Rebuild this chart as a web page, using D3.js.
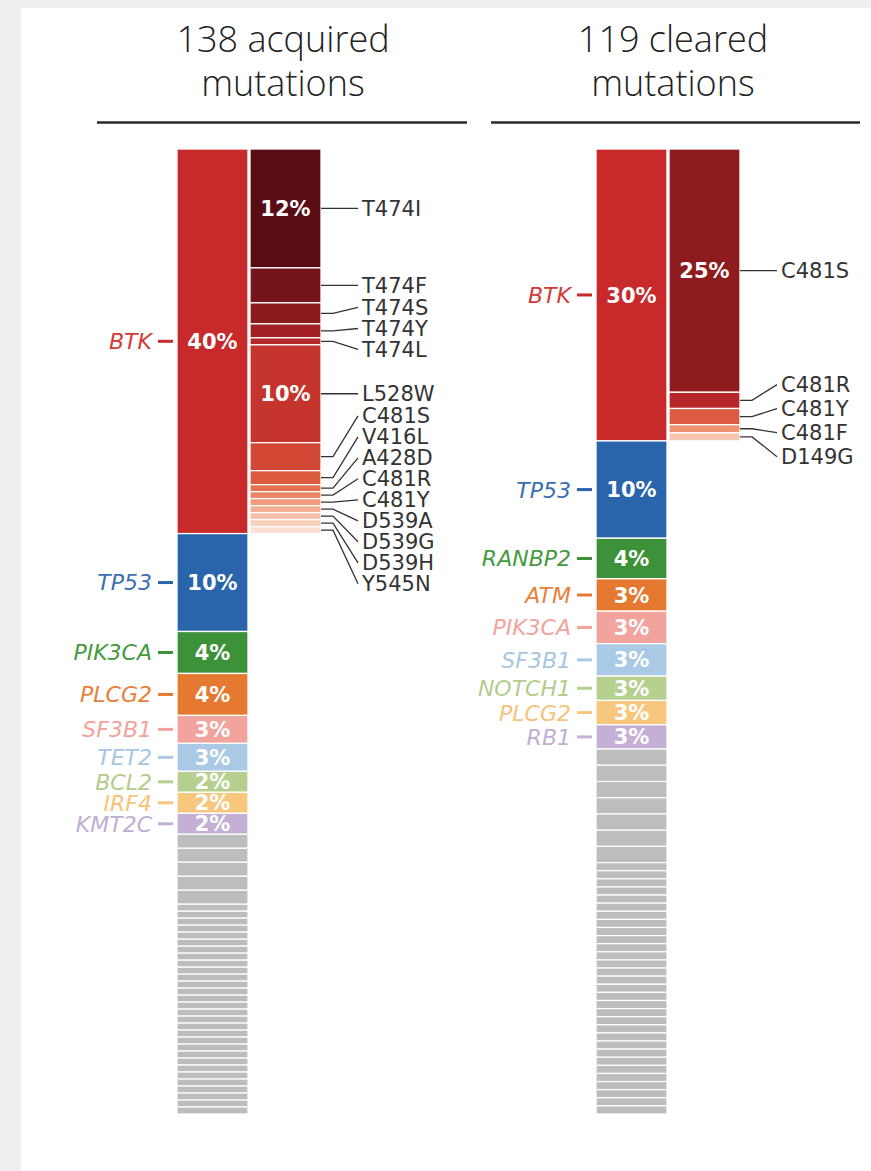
<!DOCTYPE html>
<html><head><meta charset="utf-8">
<script src="https://cdn.jsdelivr.net/npm/d3@7"></script>
<style>html,body{margin:0;padding:0;background:#efefef;}svg{display:block;}</style>
</head><body>
<script>
// ---------- DATA ----------
const leftTitle = ["138 acquired", "mutations"];
const rightTitle = ["119 cleared", "mutations"];
const leftTotal = 138;
const rightTotal = 119;

const leftGenes = ["BTK","TP53","PIK3CA","PLCG2","SF3B1","TET2","BCL2","IRF4","KMT2C"];
const leftCounts = [55,14,6,6,4,4,3,3,3];
const leftOther = [2,2,2,2,2,1,1,1,1,1,1,1,1,1,1,1,1,1,1,1,1,1,1,1,1,1,1,1,1,1,1,1,1,1,1];

const leftBtkMuts = ["T474I","T474F","T474S","T474Y","T474L","L528W","C481S","V416L","A428D","C481R","C481Y","D539A","D539G","D539H","Y545N"];
const leftBtkCounts = [17,5,3,2,1,14,4,2,1,1,1,1,1,1,1];

const rightGenes = ["BTK","TP53","RANBP2","ATM","PIK3CA","SF3B1","NOTCH1","PLCG2","RB1"];
const rightCounts = [36,12,5,4,4,4,3,3,3];
const rightOther = [2,2,2,2,2,2,2,1,1,1,1,1,1,1,1,1,1,1,1,1,1,1,1,1,1,1,1,1,1,1,1,1,1,1,1,1,1,1];

const rightBtkMuts = ["C481S","C481R","C481Y","C481F","D149G"];
const rightBtkCounts = [30,2,2,1,1];

// ---------- STYLE ----------
const rankColors = ["#c8292a","#2a65ab","#3d9139","#e5792f","#f2a39d","#a9c9e5","#b6cf8f","#f7c77d","#c4b0d5"];
const labelColors = ["#d23a35","#3a6fb2","#469a40","#e8803a","#f1a39c","#a6c6e2","#b3cc8c","#f5c37a","#c2aed3"];
const grayColor = "#bdbdbd";
const leftBtkColors = ["#5a0c16","#751419","#8d1b1e","#a32022","#b32628","#c5352d","#d24834","#dc5b3f","#e56f50","#ec8565","#f19a7e","#f4ad94","#f7bfa9","#f9cfbe","#fcdfd2"];
const rightBtkColors = ["#8e1b1d","#b9262a","#dc5b42","#ef9272","#f6c5ae"];

const W = 871, H = 1171;
const FONT = "'DejaVu Sans', sans-serif";

const svg = d3.select("body").append("svg").attr("width", W).attr("height", H);
svg.append("rect").attr("width", W).attr("height", H).attr("fill", "#efefef");
svg.append("rect").attr("x", 21).attr("y", 8).attr("width", W - 21).attr("height", H - 8).attr("fill", "#fff");

function cumulative(arr) {
  let s = 0;
  return arr.map(v => { const a = s; s += v; return [a, s]; });
}

// dodge labels: centered clusters with min spacing
function dodge(desired, gap) {
  let clusters = desired.map((d, i) => ({ idx: [i], mean: d }));
  let changed = true;
  const pos = c => c.idx.map((_, k) => c.mean - (c.idx.length - 1) * gap / 2 + k * gap);
  while (changed) {
    changed = false;
    for (let i = 0; i < clusters.length - 1; i++) {
      const a = clusters[i], b = clusters[i + 1];
      const pa = pos(a), pb = pos(b);
      if (pb[0] - pa[pa.length - 1] < gap - 0.01) {
        const idx = a.idx.concat(b.idx);
        const mean = d3.mean(idx, j => desired[j]);
        clusters.splice(i, 2, { idx, mean });
        changed = true;
        break;
      }
    }
  }
  const out = [];
  clusters.forEach(c => pos(c).forEach((p, k) => out[c.idx[k]] = p));
  return out;
}

function drawPanel(opt) {
  const g = svg.append("g");
  const y = d3.scaleLinear().domain([0, opt.total]).range([149, 1114]);
  const barW = 71;
  const x = d3.scaleOrdinal().domain(["main", "sub"]).range([opt.x0, opt.x0 + barW + 2]);

  // title
  const t = g.append("text").attr("text-anchor", "middle").attr("font-family", "'Open Sans', sans-serif")
    .attr("font-weight", 300).attr("font-size", 36).attr("fill", "#222");
  opt.title.forEach((s, i) => t.append("tspan").attr("x", opt.cx).attr("y", 52 + i * 44).text(s));
  g.append("line").attr("x1", opt.rule[0]).attr("x2", opt.rule[1]).attr("y1", 122.5).attr("y2", 122.5)
    .attr("stroke", "#2b2b2b").attr("stroke-width", 2.6);

  // main bar
  const geneSpans = cumulative(opt.counts);
  const otherSpans = cumulative(opt.other).map(([a, b]) => [a + d3.sum(opt.counts), b + d3.sum(opt.counts)]);

  g.selectAll(".gene").data(geneSpans).join("rect")
    .attr("x", x("main")).attr("width", barW)
    .attr("y", d => y(d[0])).attr("height", d => y(d[1]) - y(d[0]))
    .attr("fill", (d, i) => rankColors[i]).attr("stroke", "#fff").attr("stroke-width", 1.3);

  g.selectAll(".other").data(otherSpans).join("rect")
    .attr("x", x("main")).attr("width", barW)
    .attr("y", d => y(d[0])).attr("height", d => y(d[1]) - y(d[0]))
    .attr("fill", grayColor).attr("stroke", "#fff").attr("stroke-width", 1.2);

  // percentages in main bar
  g.selectAll(".gpct").data(geneSpans).join("text")
    .attr("x", x("main") + barW / 2).attr("y", d => (y(d[0]) + y(d[1])) / 2)
    .attr("dy", "0.36em").attr("text-anchor", "middle")
    .attr("font-family", FONT).attr("font-weight", 700).attr("font-size", 21).attr("fill", "#fff")
    .text((d, i) => Math.round(opt.counts[i] / opt.total * 100) + "%");

  // gene labels + ticks
  g.selectAll(".gtick").data(geneSpans).join("line")
    .attr("x1", x("main") - 19).attr("x2", x("main") - 4)
    .attr("y1", d => (y(d[0]) + y(d[1])) / 2).attr("y2", d => (y(d[0]) + y(d[1])) / 2)
    .attr("stroke", (d, i) => rankColors[i]).attr("stroke-width", 3);
  g.selectAll(".glab").data(geneSpans).join("text")
    .attr("x", x("main") - 25).attr("y", d => (y(d[0]) + y(d[1])) / 2)
    .attr("dy", "0.36em").attr("text-anchor", "end")
    .attr("font-family", FONT).attr("font-style", "oblique").attr("font-size", 22)
    .attr("fill", (d, i) => labelColors[i])
    .text((d, i) => opt.genes[i]);

  // BTK sub bar
  const subSpans = cumulative(opt.subCounts);
  g.selectAll(".sub").data(subSpans).join("rect")
    .attr("x", x("sub")).attr("width", barW)
    .attr("y", d => y(d[0])).attr("height", d => y(d[1]) - y(d[0]))
    .attr("fill", (d, i) => opt.subColors[i]).attr("stroke", "#fff").attr("stroke-width", 1.3);

  g.selectAll(".spct").data(subSpans.filter((d, i) => opt.subCounts[i] / opt.total >= 0.095)).join("text")
    .attr("x", x("sub") + barW / 2).attr("y", d => (y(d[0]) + y(d[1])) / 2)
    .attr("dy", "0.36em").attr("text-anchor", "middle")
    .attr("font-family", FONT).attr("font-weight", 700).attr("font-size", 21).attr("fill", "#fff")
    .text(d => Math.round((d[1] - d[0]) / opt.total * 100) + "%");

  const centers = subSpans.map(d => (y(d[0]) + y(d[1])) / 2);
  const labY = dodge(centers, opt.gap);
  const xr = x("sub") + barW;
  g.selectAll(".lead").data(centers).join("path")
    .attr("d", (c, i) => d3.line()([[xr, c], [xr + 12, c], [xr + 37, labY[i]]]))
    .attr("fill", "none").attr("stroke", "#333").attr("stroke-width", 1.3);
  g.selectAll(".mlab").data(opt.subMuts).join("text")
    .attr("x", xr + 41).attr("y", (d, i) => labY[i]).attr("dy", "0.36em")
    .attr("font-family", FONT).attr("font-size", 21).attr("fill", "#333")
    .text(d => d);
}

drawPanel({ title: leftTitle, cx: 283, rule: [97, 467], x0: 177, total: leftTotal,
  genes: leftGenes, counts: leftCounts, other: leftOther,
  subMuts: leftBtkMuts, subCounts: leftBtkCounts, subColors: leftBtkColors, gap: 21 });
drawPanel({ title: rightTitle, cx: 673, rule: [491, 860], x0: 596, total: rightTotal,
  genes: rightGenes, counts: rightCounts, other: rightOther,
  subMuts: rightBtkMuts, subCounts: rightBtkCounts, subColors: rightBtkColors, gap: 24 });
</script>
</body></html>
